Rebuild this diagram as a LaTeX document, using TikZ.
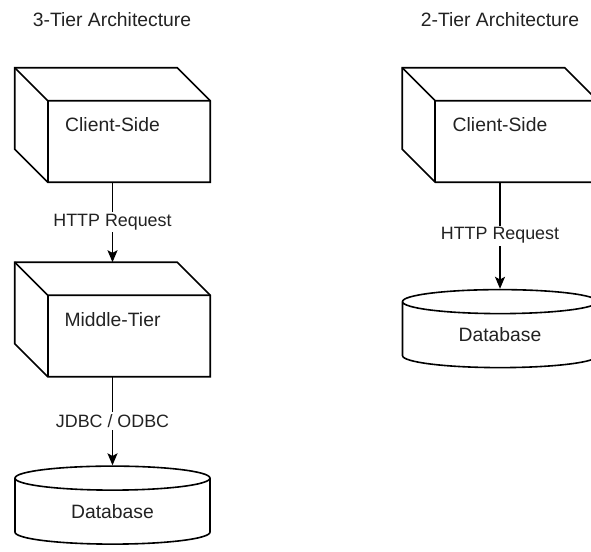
\documentclass[tikz,border=0pt]{standalone}
\usepackage{fontspec}
\setmainfont{Liberation Sans}
\usetikzlibrary{positioning}
\usetikzlibrary{arrows.meta}
\usetikzlibrary{calc}
\usetikzlibrary{shapes.geometric}
\definecolor{inkgray}{HTML}{222222}
\tikzstyle{link} = [draw, line width=1.2pt,
-{Stealth[length=9pt, width=7.5pt, inset=2pt]}]
\tikzstyle{linklabel} = [midway, fill=white, inner sep=1.5pt, text=inkgray,
font=\fontsize{13.4}{15}\selectfont]

\begin{document}
\begin{tikzpicture}[x=0.75pt, y=-0.75pt,
        boxline/.style={line width=1.2pt, line join=miter},
        cube/.style={minimum width=146.25pt, minimum height=85.5pt,
            inner sep=0pt, text=inkgray, font=\fontsize{14.5}{16}\selectfont,
            append after command={\pgfextra{\let\cubenode\tikzlastnode
                \draw[boxline] (\cubenode.north west)
                    -- ($(\cubenode.north east)+(-33,0)$)
                    -- ($(\cubenode.north east)+(0,33)$)
                    -- (\cubenode.south east)
                    -- ($(\cubenode.south west)+(33,0)$)
                    -- ($(\cubenode.south west)+(0,-33)$) -- cycle;
                \draw[boxline] (\cubenode.north west)
                    -- ($(\cubenode.north west)+(33,33)$)
                    -- ($(\cubenode.north east)+(0,33)$);
                \draw[boxline] ($(\cubenode.north west)+(33,33)$)
                    -- ($(\cubenode.south west)+(33,0)$);
            }}},
        store/.style={cylinder, shape border rotate=90, aspect=0.29,
            draw, line width=1.2pt, minimum width=146.25pt,
            minimum height=58.5pt, inner sep=0pt, text=inkgray,
            font=\fontsize{14.5}{16}\selectfont},
        heading/.style={text=inkgray, font=\fontsize{14.5}{16}\selectfont}]
        \useasboundingbox (0,0) rectangle (591,551);
        %% Titles
        \node [heading] at (112,20) (threetier) {3-Tier Architecture};
        \node [heading] at (500,20) (twotier) {2-Tier Architecture};
        %% 3-tier
        \node [cube] at (112.5,125) (client3) {Client-Side};
        \node [cube] at (112.5,319.5) (middle3) {Middle-Tier};
        \node [store] at (112.5,511.5) (db3) {Database};
        %% 2-tier
        \node [cube] at (500,125) (client2) {Client-Side};
        \node [store] at (500,335) (db2) {Database};
        %% Arcs
        \path [link] (client3) to node [linklabel] (http3) {HTTP Request} (middle3);
        \path [link] (middle3) to node [linklabel] (jdbc) {JDBC / ODBC} (db3);
        \path [link] (client2) to node [linklabel] (http2) {HTTP Request} (db2);
    \end{tikzpicture}
\end{document}
